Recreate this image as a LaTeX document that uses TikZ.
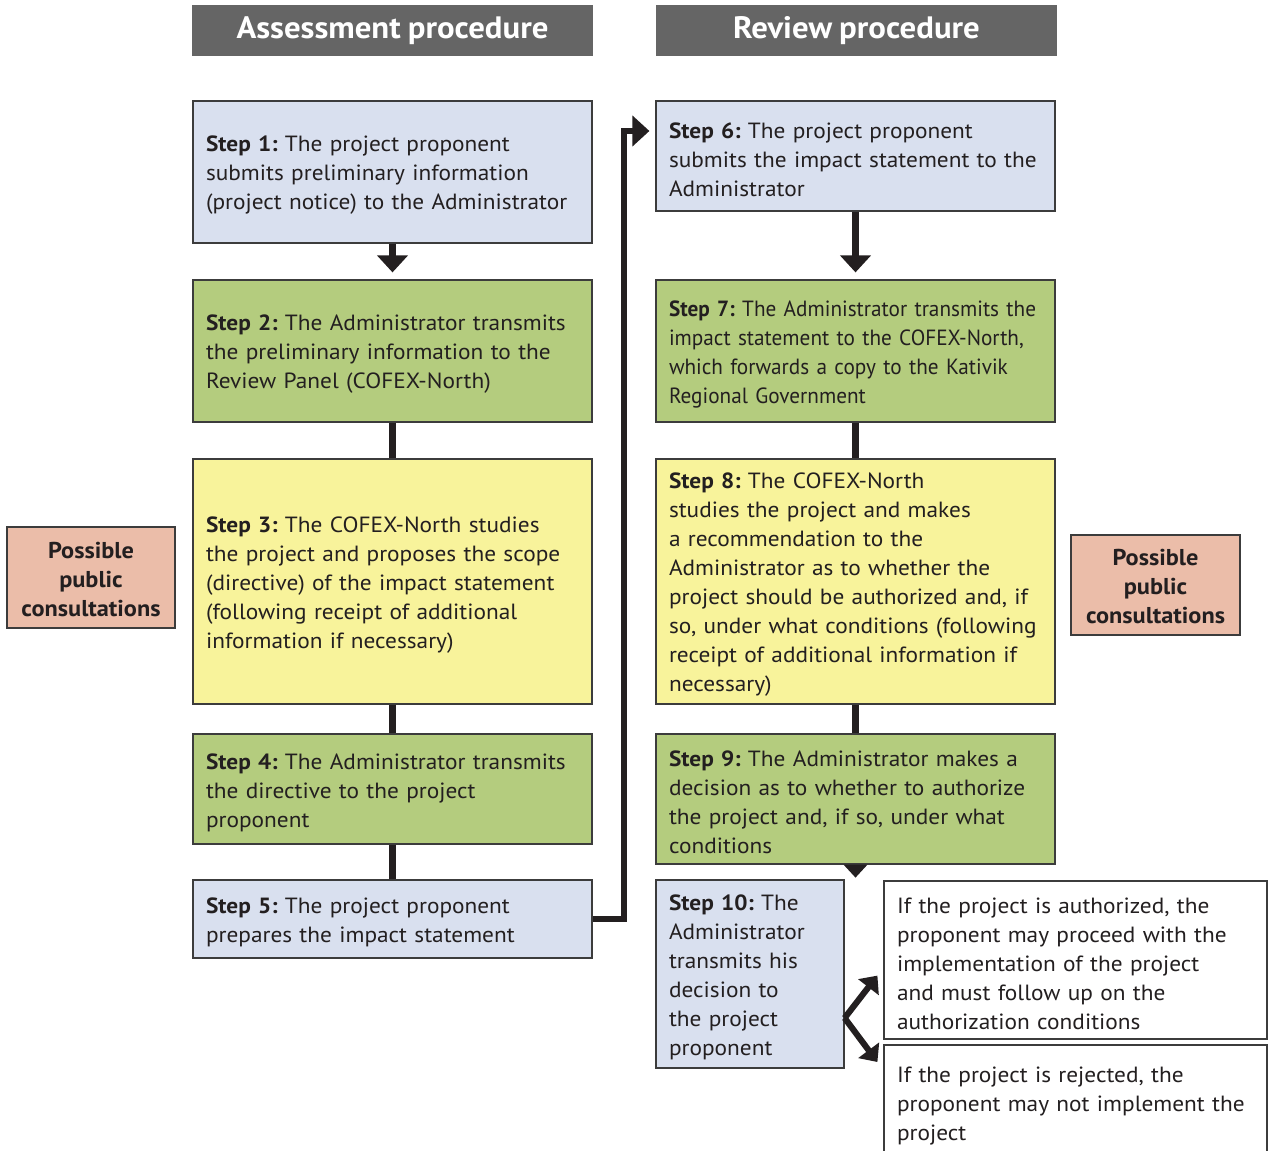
\documentclass[tikz,border=0pt]{standalone}
\usepackage{fontspec}
\setmainfont{PT Sans}[FakeStretch=1.06,WordSpace=0.85]
\newfontfamily\narrowfont{PT Sans}[FakeStretch=0.965,WordSpace=0.85]
\usetikzlibrary{arrows.meta,calc}
\definecolor{hdr}{HTML}{656565}
\definecolor{cblue}{HTML}{D9E0EF}
\definecolor{cgreen}{HTML}{B4CC7E}
\definecolor{cyellow}{HTML}{F8F39B}
\definecolor{csalmon}{HTML}{EBBDA9}
\definecolor{cborder}{HTML}{3C3C3C}
\definecolor{carrow}{HTML}{231F20}
\newcommand{\topfix}{\rule{0pt}{17pt}}
\frenchspacing
\begin{document}
\begin{tikzpicture}[x=0.75pt,y=-0.75pt,
  txt/.style={font=\fontsize{16.5pt}{21.75pt}\selectfont\frenchspacing},
  stepbox/.style={draw=cborder,line width=0.9pt,inner xsep=9.75pt,inner ysep=0pt,align=left,txt,text=carrow},
  widebox/.style={stepbox,minimum width=299.25pt,text width=279.75pt},
  hdrbox/.style={fill=hdr,text=white,minimum width=300.75pt,minimum height=38.25pt,inner sep=0pt,
    font=\fontsize{23.2pt}{27pt}\selectfont\bfseries},
  pcbox/.style={draw=cborder,line width=0.9pt,fill=csalmon,align=center,inner sep=0pt,text=carrow,
    font=\fontsize{17.2pt}{21.75pt}\selectfont\bfseries},
  bigarrow/.style={draw=carrow,line width=4.6pt},
  bigtip/.style={-{Triangle[width=22.5pt,length=12.75pt]}},
  link/.style={draw=carrow,line width=4.6pt}
]
\useasboundingbox (0,0) rectangle (1269,1151);
\clip (0,0) rectangle (1269,1151);

% headers
\node[hdrbox] (h1) at (392.5,30.5) {\raisebox{-3.5pt}{Assessment procedure}};
\node[hdrbox] (h2) at (856.5,30.5) {\raisebox{-3.5pt}{Review procedure}};

% left column
\node[widebox,fill=cblue,minimum height=106.5pt] (s1) at (392.5,172)
  {\topfix\textbf{Step 1:} The project proponent\\submits preliminary information\\(project notice) to the Administrator};
\node[widebox,fill=cgreen,minimum height=106.5pt] (s2) at (392.5,351)
  {\topfix\textbf{Step 2:} The Administrator transmits\\the preliminary information to the\\Review Panel (COFEX-North)};
\node[widebox,fill=cyellow,minimum height=183.75pt] (s3) at (392.5,581.5)
  {\topfix\textbf{Step 3:} The COFEX-North studies\\the project and proposes the scope\\(directive) of the impact statement\\(following receipt of additional\\information if necessary)};
\node[widebox,fill=cgreen,minimum height=82.5pt] (s4) at (392.5,789)
  {\topfix\textbf{Step 4:} The Administrator transmits\\the directive to the project\\proponent};
\node[widebox,fill=cblue,minimum height=58.5pt] (s5) at (392.5,919)
  {\topfix\textbf{Step 5:} The project proponent\\prepares the impact statement};

% right column
\node[widebox,fill=cblue,minimum height=82.5pt] (s6) at (855.5,156)
  {\topfix\textbf{Step 6:} The project proponent\\submits the impact statement to the\\Administrator};
\node[widebox,fill=cgreen,minimum height=106.5pt,
  font=\fontsize{16.5pt}{21.75pt}\narrowfont\frenchspacing] (s7) at (855.5,351)
  {\topfix\textbf{Step 7:} The Administrator transmits the\\impact statement to the COFEX-North,\\which forwards a copy to the Kativik\\Regional Government};
\node[widebox,fill=cyellow,minimum height=183.75pt] (s8) at (855.5,581.5)
  {\topfix\textbf{Step 8:} The COFEX-North\\studies the project and makes\\a recommendation to the\\Administrator as to whether the\\project should be authorized and, if\\so, under what conditions (following\\receipt of additional information if\\necessary)};
\node[widebox,fill=cgreen,minimum height=97.5pt] (s9) at (855.5,799)
  {\topfix\textbf{Step 9:} The Administrator makes a\\decision as to whether to authorize\\the project and, if so, under what\\conditions};
\node[stepbox,fill=cblue,minimum width=141pt,text width=121.5pt,minimum height=141pt] (s10) at (750,974)
  {\topfix\textbf{Step 10:} The\\Administrator\\transmits his\\decision to\\the project\\proponent};

% outcomes
\node[stepbox,fill=white,minimum width=287.25pt,text width=267.75pt,minimum height=118.5pt] (o1) at (1075.5,960)
  {\topfix If the project is authorized, the\\proponent may proceed with the\\implementation of the project\\and must follow up on the\\authorization conditions};
\node[stepbox,fill=white,minimum width=287.25pt,text width=267.75pt,minimum height=85.5pt] (o2) at (1075.5,1102)
  {\topfix If the project is rejected, the\\proponent may not implement the\\project};

% public consultations
\node[pcbox,minimum width=126pt,minimum height=75.75pt] (pc1) at (91,577.5) {\rule{0pt}{15pt}Possible\\public\\consultations};
\node[pcbox,minimum width=126.75pt,minimum height=75pt] (pc2) at (1155.5,585) {\rule{0pt}{15pt}Possible\\public\\consultations};

% connectors
\draw[bigarrow,bigtip,shorten >=5.25pt] (s1.south) -- (s2.north);
\draw[link] (s2.south) -- (s3.north);
\draw[link] (s3.south) -- (s4.north);
\draw[link] (s4.south) -- (s5.north);
\draw[bigarrow,bigtip,shorten >=4.5pt] (s5.east) -- ++(31,0) |- ($(s6.west)+(0,-25)$);
\draw[bigarrow,bigtip,shorten >=5.25pt] (s6.south) -- (s7.north);
\draw[link] (s7.south) -- (s8.north);
\draw[link] (s8.south) -- (s9.north);
\fill[carrow] ($(s9.south)+(-12,0)$) -- ($(s9.south)+(12,0)$) -- ($(s9.south)+(0,13)$) -- cycle;

\coordinate (fork) at ($(s10.east)+(0,44)$);
\draw[bigarrow,-{Triangle[width=19pt,length=11pt]}] (fork) -- ($(o1.south west)+(-6,-64)$);
\draw[bigarrow,-{Triangle[width=19pt,length=11pt]}] (fork) -- ($(o2.west)+(-6,-40)$);
\end{tikzpicture}
\end{document}
